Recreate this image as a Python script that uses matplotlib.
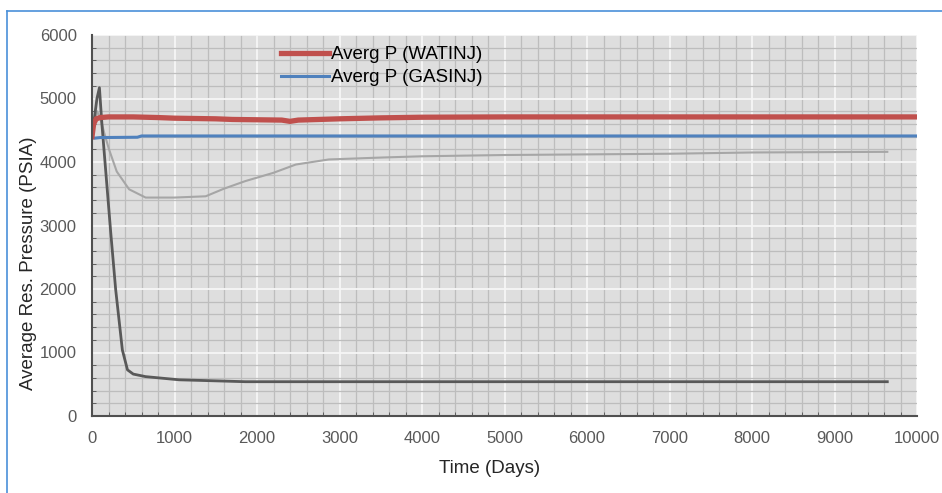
import matplotlib.pyplot as plt
from matplotlib.ticker import MultipleLocator
from matplotlib.lines import Line2D

# Data
wat_days = [0, 20, 50, 100, 200, 500, 800, 1000, 1500, 1700, 2000, 2300, 2400, 2500, 3000, 3500, 4000, 5000, 10000]
wat_psi = [4400, 4600, 4680, 4700, 4710, 4710, 4700, 4690, 4680, 4670, 4665, 4660, 4640, 4660, 4680, 4695, 4705, 4710, 4710]

gas_days = [0, 30, 100, 550, 600, 10000]
gas_psi = [4390, 4375, 4385, 4390, 4410, 4410]

dark_days = [0, 60, 90, 120, 145, 227, 287, 368, 430, 500, 650, 1055, 1860, 3000, 6000, 9640]
dark_psi = [4400, 5000, 5170, 4600, 4200, 2890, 1990, 1040, 727, 660, 620, 570, 540, 540, 540, 540]

light_days = [0, 60, 100, 150, 206, 300, 450, 650, 1000, 1378, 1600, 1860, 2200, 2470, 2870, 3500, 4000, 5000, 6000, 7000, 8000, 9640]
light_psi = [4400, 4800, 4700, 4450, 4200, 3850, 3570, 3440, 3440, 3460, 3580, 3700, 3830, 3960, 4040, 4070, 4090, 4110, 4120, 4130, 4150, 4160]

plt.rcParams['font.family'] = ['Liberation Sans', 'DejaVu Sans']

fig = plt.figure(figsize=(9.42, 4.93), dpi=100)
ax = fig.add_axes([92 / 942, 77 / 493, 825 / 942, 381 / 493])
ax.set_facecolor('#dedede')

# outer blue frame (left and top only visible)
fig.add_artist(Line2D([7 / 942, 7 / 942], [0, 1 - 11 / 493], color='#4a90d9', lw=1.2, transform=fig.transFigure))
fig.add_artist(Line2D([7 / 942, 1], [1 - 11 / 493, 1 - 11 / 493], color='#4a90d9', lw=1.2, transform=fig.transFigure))

ax.set_xlim(0, 10000)
ax.set_ylim(0, 6000)
ax.xaxis.set_major_locator(MultipleLocator(1000))
ax.yaxis.set_major_locator(MultipleLocator(1000))
ax.xaxis.set_minor_locator(MultipleLocator(200))
ax.yaxis.set_minor_locator(MultipleLocator(200))
ax.grid(which='minor', color='#bdbdbd', lw=0.9)
ax.grid(which='major', color='#f6f6f6', lw=1.3)
ax.set_axisbelow(True)

ax.plot(light_days, light_psi, color='#a6a6a6', lw=1.5)
ax.plot(dark_days, dark_psi, color='#595959', lw=2.0)
ax.plot(gas_days, gas_psi, color='#4f81bd', lw=2.2, label='Averg P (GASINJ)')
ax.plot(wat_days, wat_psi, color='#c0504d', lw=3.8, label='Averg P (WATINJ)')

for s in ['top', 'right']:
    ax.spines[s].set_visible(False)
ax.spines['left'].set_color('#505050')
ax.spines['bottom'].set_color('#505050')
ax.spines['left'].set_linewidth(1.5)
ax.spines['bottom'].set_linewidth(1.5)
ax.tick_params(which='major', length=0, labelsize=12, labelcolor='#595959')
ax.tick_params(axis='x', which='major', pad=11)
ax.tick_params(axis='y', which='major', pad=11)
ax.tick_params(which='minor', direction='in', length=3, color='#505050')

ax.set_xlabel('Time (Days)', fontsize=13.5, color='#262626')
ax.set_ylabel('Average Res. Pressure (PSIA)', fontsize=13.5, color='#262626')
ax.xaxis.set_label_coords(0.482, -0.115)
ax.yaxis.set_label_coords(-0.067, 0.40)

handles, labels = ax.get_legend_handles_labels()
leg = ax.legend(handles[::-1], labels[::-1], loc='upper left', bbox_to_anchor=(0.215, 1.0),
                frameon=False, fontsize=13.5, handlelength=2.6, handletextpad=0.1,
                labelspacing=0.3, borderaxespad=0.2)

fig.savefig('out.png', dpi=100, facecolor='white')
